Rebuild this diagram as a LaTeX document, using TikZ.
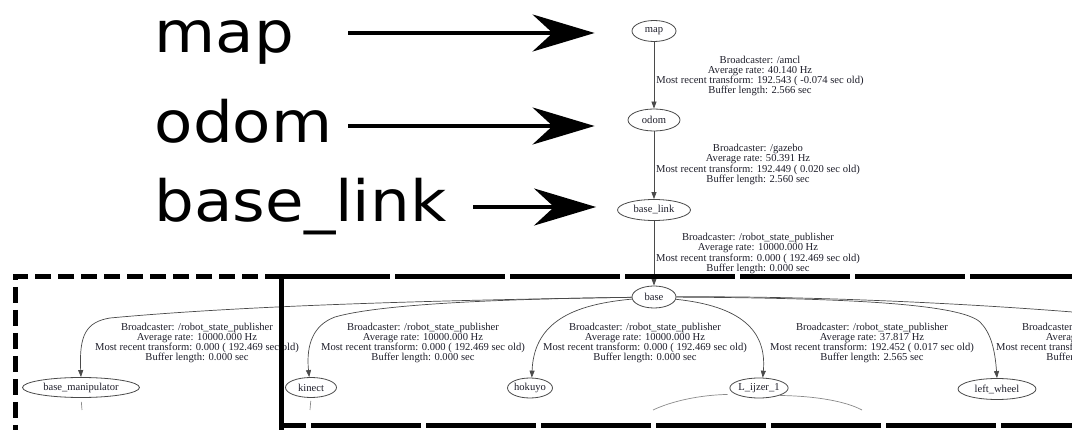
\documentclass[tikz,border=0pt]{standalone}
\usepackage{fontspec}
\setmainfont{Liberation Serif}
\newfontfamily\bigsans{DejaVu Sans}
\usetikzlibrary{shapes.geometric,arrows.meta}
\definecolor{ink}{HTML}{1E1E2A}
\definecolor{edgegray}{HTML}{4A4A4A}
\definecolor{stubgray}{HTML}{8A8A8A}
\begin{document}
\begin{tikzpicture}[x=1pt,y=-1pt,
  frame/.style={ellipse,draw=edgegray,line width=0.8pt,inner sep=0pt,
    font=\fontsize{10.6}{12}\selectfont,text=ink},
  info/.style={align=center,inner sep=0pt,font=\fontsize{10.6}{10.2}\selectfont,text=ink},
  tf/.style={draw=edgegray,line width=0.7pt,-{Triangle[length=7pt,width=5pt]}},
  stub/.style={draw=stubgray,line width=0.7pt},
  biglabel/.style={inner sep=0pt,anchor=base west,font=\bigsans\fontsize{57}{60}\selectfont},
  bigarrow/.style={line width=4pt,-{Stealth[length=62pt,width=37pt,inset=20pt]}},
  leftframe/.style={line width=5pt,dash pattern=on 16pt off 7pt},
  rightframe/.style={line width=5pt,dash pattern=on 110pt off 5pt},
]
\useasboundingbox (0,0) rectangle (1072,430);
\clip (0,0) rectangle (1072,430);

% frame tree nodes
\node[frame,minimum width=44pt,minimum height=21pt] (map) at (654,31) {map};
\node[frame,minimum width=52pt,minimum height=22pt] (odom) at (654,120) {odom};
\node[frame,minimum width=73pt,minimum height=21pt] (baselink) at (654,210) {base\_link};
\node[frame,minimum width=44pt,minimum height=22pt] (base) at (654,297) {base};
\node[frame,minimum width=117pt,minimum height=20pt] (manip) at (81,387.5) {base\_manipulator};
\node[frame,minimum width=51pt,minimum height=20pt] (kinect) at (311,387.5) {kinect};
\node[frame,minimum width=44pt,minimum height=20pt] (hokuyo) at (530,388) {hokuyo};
\node[frame,minimum width=52pt,minimum height=20pt] (lijzer) at (759,388) {L\_ijzer\_1};
\node[frame,minimum width=78pt,minimum height=21pt] (lwheel) at (997,389) {left\_wheel};

% transform edges
\draw[tf] (map) -- (odom);
\draw[tf] (odom) -- (baselink);
\draw[tf] (baselink) -- (base);
\draw[tf] (base) .. controls (450,300) and (250,305) .. (110,318)
  .. controls (86,322) and (79,335) .. (manip.north);
\draw[tf] (base) .. controls (500,299) and (380,304) .. (335,317)
  .. controls (313,325) and (306,345) .. (kinect.100);
\draw[tf] (base) .. controls (580,304) and (534,318) .. (hokuyo.80);
\draw[tf] (base) .. controls (740,306) and (767,330) .. (lijzer.70);
\draw[tf] (base) .. controls (850,298) and (960,304) .. (980,322)
  .. controls (991,333) and (995,350) .. (lwheel.north);
\coordinate (rightOut) at (1085,313);
\draw[edgegray,line width=0.7pt] (base) .. controls (800,296) and (950,302) .. (rightOut);

% edges leaving the lower nodes
\coordinate (manipStub) at (82,410);
\coordinate (kinectStub) at (310,410);
\coordinate (lijzerLeft) at (653,410);
\coordinate (lijzerRight) at (862,410);
\draw[stub,shorten <=4pt] (manip.south) -- (manipStub);
\draw[stub,shorten <=3pt] (kinect.south) -- (kinectStub);
\draw[stub,shorten <=8pt] (lijzer.195) .. controls (700,395) and (672,401) .. (lijzerLeft);
\draw[stub] (lijzer.340) .. controls (815,396) and (845,401) .. (lijzerRight);

% edge labels
\node[info] (i1) at (760,76) {Broadcaster: /amcl\\Average rate: 40.140 Hz\\
  Most recent transform: 192.543 ( -0.074 sec old)\\Buffer length: 2.566 sec};
\node[info] (i2) at (758,164.5) {Broadcaster: /gazebo\\Average rate: 50.391 Hz\\
  Most recent transform: 192.449 ( 0.020 sec old)\\Buffer length: 2.560 sec};
\node[info] (i3) at (758,253.5) {Broadcaster: /robot\_state\_publisher\\Average rate: 10000.000 Hz\\
  Most recent transform: 0.000 ( 192.469 sec old)\\Buffer length: 0.000 sec};
\node[info] (i4) at (197,343) {Broadcaster: /robot\_state\_publisher\\Average rate: 10000.000 Hz\\
  Most recent transform: 0.000 ( 192.469 sec old)\\Buffer length: 0.000 sec};
\node[info] (i5) at (423,343) {Broadcaster: /robot\_state\_publisher\\Average rate: 10000.000 Hz\\
  Most recent transform: 0.000 ( 192.469 sec old)\\Buffer length: 0.000 sec};
\node[info] (i6) at (645,343) {Broadcaster: /robot\_state\_publisher\\Average rate: 10000.000 Hz\\
  Most recent transform: 0.000 ( 192.469 sec old)\\Buffer length: 0.000 sec};
\node[info] (i7) at (872,343) {Broadcaster: /robot\_state\_publisher\\Average rate: 37.817 Hz\\
  Most recent transform: 192.452 ( 0.017 sec old)\\Buffer length: 2.565 sec};
\node[info] (i8) at (1098,343) {Broadcaster: /robot\_state\_publisher\\Average rate: 37.817 Hz\\
  Most recent transform: 192.452 ( 0.017 sec old)\\Buffer length: 2.565 sec};

% large callouts
\node[biglabel] (Lmap) at (154.5,53) {\scalebox{1.1}[1]{map}};
\node[biglabel] (Lodom) at (154.5,142.5) {\scalebox{1.1}[1]{odom}};
\node[biglabel] (Lbaselink) at (154.5,221.5) {\scalebox{1.1}[1]{base\_link}};
\coordinate (mapTail) at (348,33);
\coordinate (odomTail) at (348,126);
\coordinate (baselinkTail) at (473,207);
\draw[bigarrow,shorten >=37pt] (mapTail) -- (mapTail -| map.west);
\draw[bigarrow,shorten >=33pt] (odomTail) -- (odomTail -| odom.west);
\draw[bigarrow,shorten >=21pt] (baselinkTail) -- (baselinkTail -| baselink.west);

% grouping frames
\draw[leftframe] (281,277) -- (15,277) -- (15,445);
\draw[rightframe] (280,277) -- (1085,277);
\draw[rightframe,dash phase=85pt] (281,426) -- (1085,426);
\draw[line width=5pt] (281,274.5) -- (281,445);
\end{tikzpicture}
\end{document}
